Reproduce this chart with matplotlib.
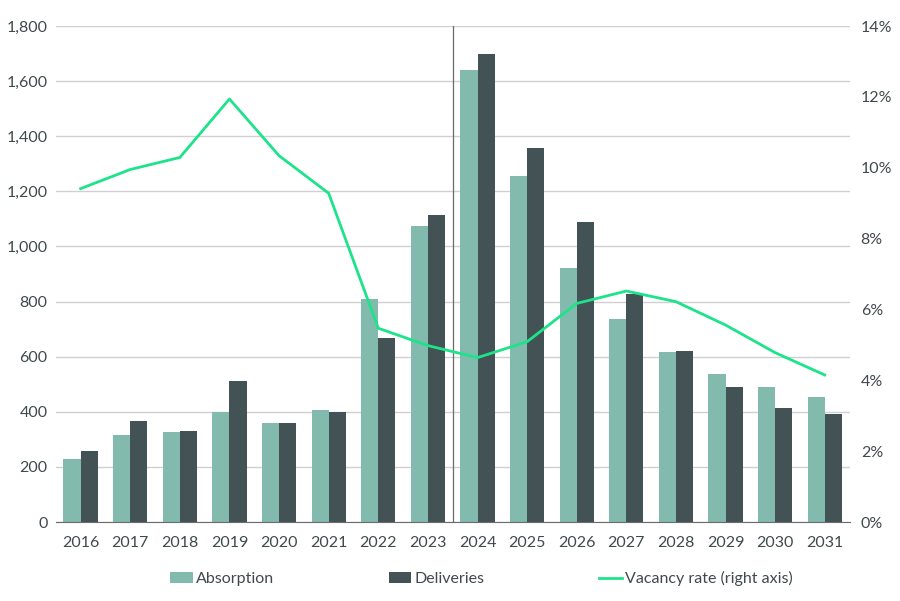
import numpy as np
import matplotlib.pyplot as plt
from matplotlib.ticker import FuncFormatter

plt.rcParams['font.family'] = ['Lato', 'DejaVu Sans']

years = ['2016', '2017', '2018', '2019', '2020', '2021', '2022', '2023',
         '2024', '2025', '2026', '2027', '2028', '2029', '2030', '2031']
absorption = [227, 317, 327, 400, 360, 405, 808, 1073,
              1642, 1255, 922, 738, 617, 537, 489, 454]
deliveries = [257, 365, 331, 513, 360, 400, 669, 1113,
              1698, 1358, 1088, 827, 620, 489, 415, 391]
vacancy = [9.41, 9.95, 10.29, 11.94, 10.34, 9.28, 5.47, 4.98,
           4.64, 5.09, 6.17, 6.52, 6.22, 5.56, 4.78, 4.15]

c_abs = '#82bbad'
c_del = '#435254'
c_vac = '#1de38a'
c_txt = '#3f4a4c'

x = np.arange(len(years))
w = 0.345

fig = plt.figure(figsize=(9, 6.01), dpi=100)
ax = fig.add_axes([0.062, 0.1314, 0.882, 0.8253])
ax2 = ax.twinx()

ax.bar(x - w / 2, absorption, w, color=c_abs, label='Absorption', zorder=2)
ax.bar(x + w / 2, deliveries, w, color=c_del, label='Deliveries', zorder=2)
ax2.plot(x, vacancy, color=c_vac, lw=2, label='Vacancy rate (right axis)')

# divider between actuals and forecast
ax.axvline(7.5, color='#6b6b6b', lw=0.9, zorder=3)

ax.set_xlim(-0.5, 15.5)
ax.set_ylim(0, 1800)
ax.set_yticks(np.arange(0, 1801, 200))
ax.yaxis.set_major_formatter(FuncFormatter(lambda v, p: f'{v:,.0f}'))
ax2.set_ylim(0, 14)
ax2.set_yticks(np.arange(0, 15, 2))
ax2.yaxis.set_major_formatter(FuncFormatter(lambda v, p: f'{v:.0f}%'))

ax.set_xticks(x)
ax.set_xticklabels(years)
ax.grid(axis='y', color='#d0d0d0', lw=1, zorder=0)
ax.set_axisbelow(True)

for a in (ax, ax2):
    for s in ('top', 'left', 'right', 'bottom'):
        a.spines[s].set_visible(False)
    a.tick_params(length=0, labelsize=11.5, colors=c_txt)
ax.spines['bottom'].set_visible(True)
ax.spines['bottom'].set_color('#6b6b6b')
ax.tick_params(axis='x', pad=10)
ax.tick_params(axis='y', pad=6)
ax2.tick_params(axis='y', pad=8)

h1, l1 = ax.get_legend_handles_labels()
h2, l2 = ax2.get_legend_handles_labels()
fig.legend(h1 + h2, l1 + l2, loc='center', bbox_to_anchor=(0.535, 0.037),
           ncol=3, frameon=False, fontsize=11.5, handlelength=1.4,
           handletextpad=0.2, columnspacing=7.2, labelcolor=c_txt)

fig.savefig('out.png', dpi=100)
